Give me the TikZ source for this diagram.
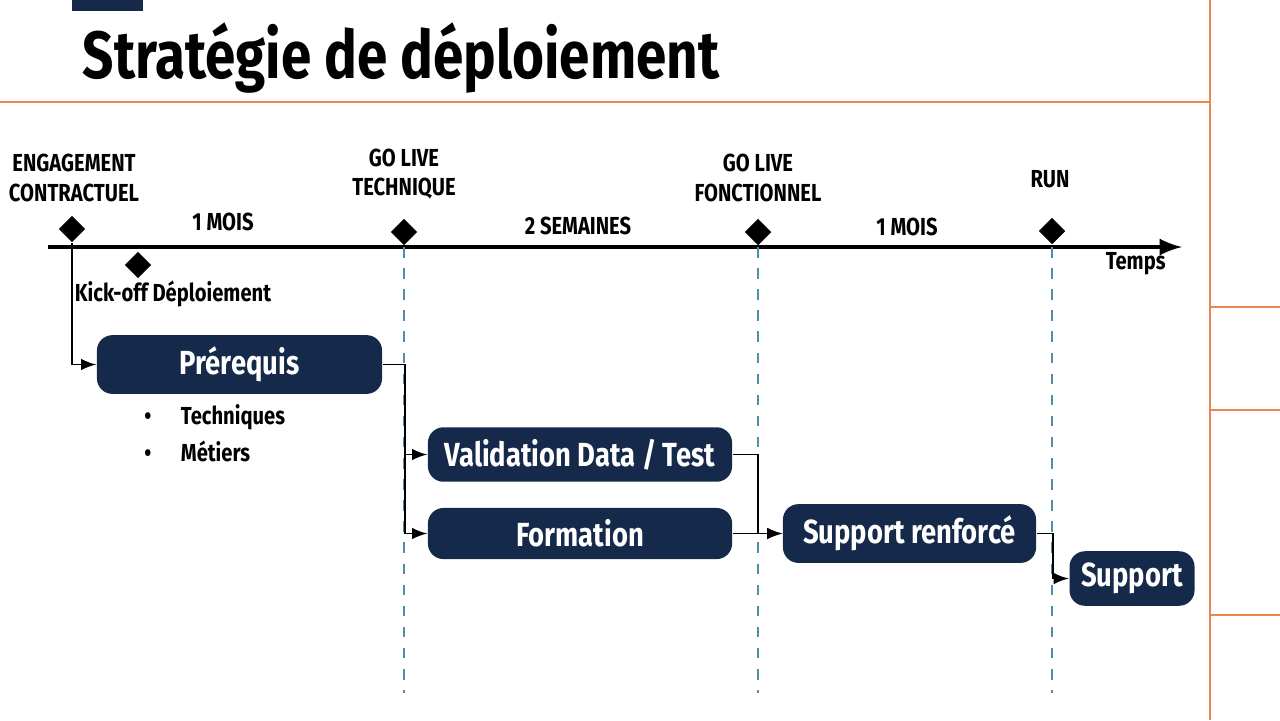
\documentclass[tikz,border=0pt]{standalone}
\usepackage{fontspec}
\setmainfont{Fira Sans}[FakeStretch=0.82]
\usetikzlibrary{calc,shapes.geometric}
\definecolor{navy}{HTML}{15294A}
\definecolor{rule}{HTML}{E8874F}
\definecolor{guide}{HTML}{4F8FA8}
\begin{document}
\begin{tikzpicture}[x=0.01cm,y=-0.01cm]
        \tikzset{ms/.style={draw=none,fill=black,diamond,minimum size=0.27cm,inner sep=0pt,shape aspect=1},
                 lab/.style={font=\bfseries\fontsize{7}{8.5}\selectfont,align=center},
                 pill/.style={fill=navy,rounded corners=0.155cm,text=white,font=\bfseries\fontsize{9.5}{10}\selectfont},
                 link/.style={-latex,line width=0.5pt}}
        \useasboundingbox (0,0) rectangle (1280,720);
        % frame
        \fill[navy] (72,0) rectangle (143,11);
        \draw[rule,line width=0.6pt] (0,102)--(1210,102);
        \draw[rule,line width=0.6pt] (1210,0)--(1210,720);
        \foreach \yy in {307,410,615} \draw[rule,line width=0.6pt] (1210,\yy)--(1280,\yy);
        \node[anchor=base west,inner sep=0pt,font=\bfseries\fontsize{19}{22}\selectfont] (title) at (82,78) {Stratégie de déploiement};
        % timeline
        \coordinate (t0) at (48,247);
        \coordinate (t1) at (1182,247);
        \draw[-latex,line width=1.2pt] (t0)--(t1);
        \node[lab,anchor=east] (temps) at (1178,264) {Temps};
        \node[ms] (eng) at (72,229) {};
        \node[ms] (kick) at (138,265) {};
        \node[ms] (glt) at (404,232) {};
        \node[ms] (glf) at (758,232) {};
        \node[ms] (run) at (1052,231) {};
        \node[lab] at (74,178) {ENGAGEMENT\\CONTRACTUEL};
        \node[lab] at (404,174) {GO LIVE\\TECHNIQUE};
        \node[lab] at (758,178) {GO LIVE\\FONCTIONNEL};
        \node[lab] at (1050,179) {RUN};
        \node[lab] at (223,222) {1 MOIS};
        \node[lab] at (578,226) {2 SEMAINES};
        \node[lab] at (907,227) {1 MOIS};
        \node[lab] at (173,294) {Kick-off Déploiement};
        % guides
        \foreach \xx in {404,758,1052} \draw[guide,dashed,line width=0.5pt] (\xx,247)--(\xx,693);
        % phases
        \node[pill,minimum width=2.85cm,minimum height=0.31cm] (pre) at (239.5,364.5) {Prérequis};
        \node[pill,minimum width=3.04cm,minimum height=0.31cm] (val) at (580,454.5) {Validation Data / Test};
        \node[pill,minimum width=3.04cm,minimum height=0.31cm] (form) at (580,533.5) {Formation};
        \node[pill,minimum width=2.53cm,minimum height=0.31cm] (sr) at (909.5,533.5) {Support renforcé};
        \node[pill,minimum width=1.24cm,minimum height=0.31cm] (sup) at (1132,578.5) {Support};
        \node[lab,anchor=north west,align=left] (items) at (132,392) {\textbullet\hspace{1.2em}Techniques\\[2pt]\textbullet\hspace{1.2em}Métiers};
        % connectors
        \draw[link] (eng.south) |- (pre.west);
        \draw[link] (pre.east) -| ($(pre.east)+(22,50)$) |- (val.west);
        \draw[link] (pre.east) -| ($(pre.east)+(22,50)$) |- (form.west);
        \draw[link] (val.east) -| ($(val.east)+(25,40)$) |- (sr.west);
        \draw[link] (form.east) -- (sr.west);
        \draw[link] (sr.east) -| ($(sr.east)+(16,20)$) |- (sup.west);
    \end{tikzpicture}
\end{document}
